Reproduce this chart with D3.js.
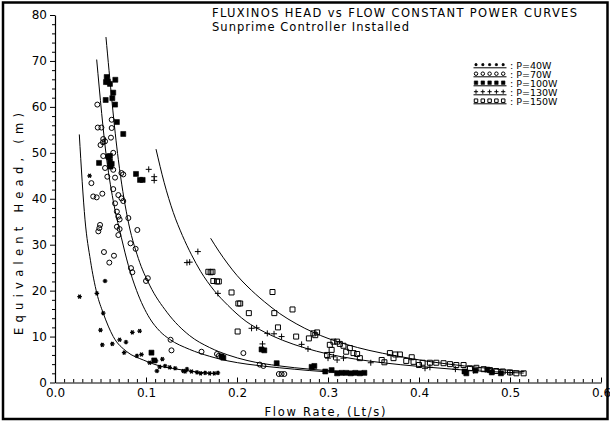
<!DOCTYPE html>
<html><head><meta charset="utf-8">
<script src="https://cdn.jsdelivr.net/npm/d3@7"></script>
<style>html,body{margin:0;padding:0;background:#fff;} svg{display:block;font-family:"DejaVu Sans",sans-serif;}</style>
</head><body><svg id="c" width="610" height="423"></svg>
<script>
// ---------- data (Q in Lt/s, H in m) ----------
const seriesNames = ["P=40W", "P=70W", "P=100W", "P=130W", "P=150W"];
const titleLines = ["FLUXINOS HEAD vs FLOW CONSTANT POWER CURVES", "Sunprime Controller Installed"];
const xLabel = "Flow Rate, (Lt/s)";
const yLabel = "Equivalent Head, (m)";
const xMajorTicks = [0, 0.1, 0.2, 0.3, 0.4, 0.5, 0.6];
const yMajorTicks = [0, 10, 20, 30, 40, 50, 60, 70, 80];

const curve40 = [[0.0267,54],[0.033,35.4],[0.039,26.5],[0.046,19.4],[0.053,15.1],[0.064,10],[0.079,6.7],[0.097,4.9],[0.115,3.6],[0.134,2.9],[0.150,2.45],[0.165,2.1],[0.179,1.9]];
const curve70 = [[0.0458,70.3],[0.0568,48.6],[0.065,38.5],[0.073,31.5],[0.0806,25.5],[0.0897,20.0],[0.104,14.0],[0.115,11.2],[0.126,9.4],[0.148,7.2],[0.17,5.7],[0.19,4.7],[0.211,4.0],[0.247,3.2],[0.28,2.6],[0.31,2.2],[0.335,2.0]];
const curve100 = [[0.056,75.2],[0.0696,48.5],[0.0795,36],[0.0916,27],[0.104,21.2],[0.123,15.3],[0.148,10.2],[0.17,7.6],[0.19,6.0],[0.211,4.8],[0.247,3.6],[0.28,2.9],[0.31,2.45],[0.335,2.2]];
const curve130 = [[0.111,50.8],[0.12,43.5],[0.13,37],[0.14,32],[0.15,27.8],[0.16,24.2],[0.175,20],[0.19,16.8],[0.21,13.3],[0.23,11],[0.25,9.2],[0.275,7.5],[0.30,6.2],[0.33,5.1],[0.36,4.3],[0.40,3.5],[0.44,2.85],[0.48,2.35],[0.515,2.05]];
const curve150 = [[0.171,31.4],[0.18,28.6],[0.19,25.8],[0.20,23.3],[0.211,21],[0.23,17.6],[0.247,15],[0.265,12.8],[0.284,10.9],[0.30,9.6],[0.32,8.3],[0.345,7.0],[0.375,5.8],[0.41,4.6],[0.45,3.6],[0.485,2.9],[0.516,2.35]];

const points40 = [[0.027,18.7],[0.038,45],[0.046,19.4],[0.055,22.1],[0.053,15.1],[0.050,11.4],[0.052,8.2],[0.063,8.4],[0.071,9.3],[0.078,8.8],[0.076,6.5],[0.085,10.9],[0.093,11.2],[0.090,5.8],[0.095,6.1],[0.104,4.3],[0.111,4.7],[0.118,5.1],[0.112,2.5],[0.115,3.4],[0.121,3.6],[0.126,3.3],[0.132,3.1],[0.143,2.4],[0.141,2.5],[0.145,2.9],[0.150,2.4],[0.156,2.2],[0.160,2.0],[0.165,2.1],[0.170,2.0],[0.175,2.0],[0.179,2.1]];
const points70 = [[0.0465,60.5],[0.047,55.5],[0.051,55.5],[0.0623,57.2],[0.0623,55.4],[0.0615,53.3],[0.053,53],[0.0527,52.3],[0.050,51.7],[0.055,52.5],[0.064,50],[0.053,49.3],[0.0586,49],[0.055,46.7],[0.0575,44.8],[0.040,43.4],[0.042,40.5],[0.0458,40.3],[0.052,41.1],[0.064,42.1],[0.073,45.6],[0.075,45.3],[0.064,46.3],[0.066,44.6],[0.0696,40.8],[0.073,40.1],[0.075,39.5],[0.066,39],[0.068,37.2],[0.0696,36.1],[0.071,35.5],[0.068,33.9],[0.071,33.4],[0.0495,34.3],[0.0487,33.6],[0.0476,32.9],[0.0806,35.8],[0.0905,33.2],[0.0696,32.1],[0.083,30.3],[0.0886,29.1],[0.0538,28.4],[0.0648,27.6],[0.0597,26.1],[0.0835,24.9],[0.085,24],[0.100,22.1],[0.102,22.7],[0.127,9.3],[0.128,7.0],[0.161,6.7],[0.178,6.2],[0.180,5.8],[0.207,6.4],[0.225,3.9],[0.229,3.6],[0.246,1.85],[0.249,1.85],[0.252,1.85]];
const points100 = [[0.0568,66.5],[0.058,65.5],[0.056,65.4],[0.0604,65],[0.0663,65.9],[0.064,63.1],[0.063,61.9],[0.0557,61.5],[0.066,60.5],[0.068,56.7],[0.075,54.1],[0.0604,49.3],[0.0484,47.8],[0.0586,49.2],[0.0604,48.1],[0.0623,47.6],[0.061,47],[0.089,45.4],[0.0934,44.1],[0.0963,44.1],[0.106,6.5],[0.109,4.8],[0.183,5.7],[0.185,5.4],[0.227,7.2],[0.230,7.0],[0.2436,4.2],[0.282,3.4],[0.285,3.6],[0.297,2.4],[0.304,2.7],[0.31,2.0],[0.315,2.1],[0.32,2.1],[0.325,2.0],[0.33,2.1],[0.335,2.0],[0.34,2.1],[0.45,2.4],[0.452,2.0],[0.462,2.6],[0.475,2.8],[0.48,2.2],[0.49,2.0]];
const points130 = [[0.103,46.4],[0.109,44.8],[0.109,44],[0.145,26.1],[0.148,26.2],[0.157,28.5],[0.179,19.4],[0.216,11.8],[0.2216,11.9],[0.2333,10.7],[0.2407,10.6],[0.249,10],[0.228,8.4],[0.271,8.3],[0.278,7.3],[0.300,5.3],[0.306,5.6],[0.31,4.9],[0.317,5.3],[0.347,4.3],[0.4066,3.1],[0.412,3.3],[0.44,2.9],[0.46,2.6],[0.48,2.3],[0.50,2.1]];
const points150 = [[0.1685,24.1],[0.171,24.0],[0.173,24.1],[0.174,22.1],[0.178,22],[0.180,22],[0.194,19.6],[0.2015,17.2],[0.2035,17.2],[0.213,15.1],[0.2007,11.1],[0.239,19.7],[0.241,15.1],[0.245,12],[0.261,15.9],[0.265,10],[0.279,9.6],[0.284,10.7],[0.286,10.3],[0.288,10.9],[0.299,6],[0.302,8.2],[0.304,7.1],[0.306,8.9],[0.31,8.9],[0.313,8.4],[0.317,8.0],[0.32,6.7],[0.324,7.5],[0.328,6.4],[0.332,6.2],[0.335,5.3],[0.359,4.9],[0.362,4.4],[0.368,6.4],[0.374,6.1],[0.379,6.1],[0.372,5.3],[0.386,4.7],[0.392,5.5],[0.394,4.5],[0.40,3.8],[0.404,4.3],[0.412,4.3],[0.419,4.3],[0.427,4.2],[0.434,4.0],[0.441,3.8],[0.449,3.8],[0.456,3.1],[0.463,3.2],[0.471,2.9],[0.478,2.7],[0.485,2.5],[0.492,2.4],[0.5,2.2],[0.507,2.0],[0.515,2.0]];

const curves = [curve40, curve70, curve100, curve130, curve150];
const pointSets = [points40, points70, points100, points130, points150];
const symbolTypes = ["star", "circle", "fsquare", "plus", "osquare"];

// ---------- drawing ----------
const svg = d3.select("#c");
const x = d3.scaleLinear().domain([0, 0.6]).range([55, 601]);
const y = d3.scaleLinear().domain([0, 80]).range([382.5, 15]);

// frame
svg.append("rect").attr("x", 3).attr("y", 2.5).attr("width", 604.5).attr("height", 416.5)
  .attr("fill", "none").attr("stroke", "#000").attr("stroke-width", 2.5);

// axes
const xMinor = d3.range(0, 61).map(i => i / 100).filter(v => Math.round(v * 100) % 10 !== 0);
const yMinor = d3.range(0, 81, 2).filter(v => v % 10 !== 0);

const gx = svg.append("g").attr("transform", `translate(0,${y(0)})`);
gx.call(d3.axisBottom(x).tickValues(xMinor).tickSize(-3.5).tickFormat(""));
gx.call(g => g.select(".domain").remove());
const gx2 = svg.append("g").attr("transform", `translate(0,${y(0)})`);
gx2.call(d3.axisBottom(x).tickValues(xMajorTicks).tickSize(-5).tickPadding(6).tickSizeOuter(0).tickFormat(d3.format(".1f")));

const gy = svg.append("g").attr("transform", `translate(${x(0)},0)`);
gy.call(d3.axisLeft(y).tickValues(yMinor).tickSize(3).tickFormat(""));
gy.call(g => g.select(".domain").remove());
const gy2 = svg.append("g").attr("transform", `translate(${x(0)},0)`);
gy2.call(d3.axisLeft(y).tickValues(yMajorTicks).tickSize(5).tickPadding(3).tickSizeOuter(0).tickFormat(d3.format("d")));

svg.selectAll(".tick line").attr("stroke", "#000").attr("stroke-width", 1);
svg.selectAll(".domain").attr("stroke", "#000").attr("stroke-width", 1.2);
svg.selectAll(".tick text").attr("font-family", "DejaVu Sans").attr("font-size", 12).attr("fill", "#000");

// curves
const line = d3.line().x(d => x(d[0])).y(d => y(d[1])).curve(d3.curveMonotoneX);
svg.append("g").selectAll("path").data(curves).join("path")
  .attr("d", line).attr("fill", "none").attr("stroke", "#000").attr("stroke-width", 1);

// symbols
function symbolPath(type, s) {
  const r = 2.5 * s;
  if (type === "star") {
    const a = 2.3 * s, b = 1.15 * s, c = 2.0 * s;
    return `M${-a},0L${a},0M${-b},${-c}L${b},${c}M${b},${-c}L${-b},${c}`;
  }
  if (type === "plus") {
    const p = 3 * s;
    return `M${-p},0L${p},0M0,${-p}L0,${p}`;
  }
  if (type === "circle") {
    return `M${r},0A${r},${r} 0 1,1 ${-r},0A${r},${r} 0 1,1 ${r},0Z`;
  }
  return `M${-r},${-r}L${r},${-r}L${r},${r}L${-r},${r}Z`;
}
function styleSymbol(sel, type, s) {
  sel.attr("d", symbolPath(type, s)).attr("stroke", "#000");
  if (type === "fsquare") sel.attr("fill", "#000").attr("stroke-width", 0.6);
  else if (type === "star") sel.attr("fill", "none").attr("stroke-width", 1.3 * Math.max(s, 0.8));
  else sel.attr("fill", "none").attr("stroke-width", 1);
}

pointSets.forEach((pts, i) => {
  const t = symbolTypes[i];
  svg.append("g").selectAll("path").data(pts).join("path")
    .attr("transform", d => `translate(${x(d[0])},${y(d[1])})`)
    .call(sel => styleSymbol(sel, t, 1));
});

// titles
svg.append("text").attr("x", 212).attr("y", 17).attr("font-size", 11.5)
  .attr("textLength", 365).attr("lengthAdjust", "spacing").text(titleLines[0]);
svg.append("text").attr("x", 212).attr("y", 31).attr("font-size", 11.5)
  .attr("textLength", 197).attr("lengthAdjust", "spacing").text(titleLines[1]);

// axis labels
svg.append("text").attr("x", 325).attr("y", 416).attr("text-anchor", "middle").attr("font-size", 11.5)
  .attr("textLength", 121).attr("lengthAdjust", "spacing").text(xLabel);
svg.append("text").attr("transform", "translate(23,224) rotate(-90)").attr("text-anchor", "middle").attr("font-size", 11.5)
  .attr("textLength", 222).attr("lengthAdjust", "spacing").text(yLabel);

// legend
const legendRows = [65.5, 74.5, 83.5, 92.5, 101.5];
const lg = svg.append("g");
seriesNames.forEach((name, i) => {
  const ry = legendRows[i];
  const t = symbolTypes[i];
  lg.append("g").selectAll("path.sym").data(d3.range(5)).join("path").attr("class", "sym")
    .attr("transform", k => `translate(${476 + k * 6.8},${ry - 0.8})`)
    .call(sel => styleSymbol(sel, t, 0.7));
  lg.append("line").attr("x1", 473.5).attr("x2", 506.5).attr("y1", ry + 2.3).attr("y2", ry + 2.3)
    .attr("stroke", "#000").attr("stroke-width", 1);
});
const legendText = lg.append("text").attr("font-size", 9.5);
legendText.selectAll("tspan").data(seriesNames).join("tspan")
  .attr("x", 510).attr("y", (d, i) => legendRows[i] + 3.3).text(d => ": " + d);
</script></body></html>
